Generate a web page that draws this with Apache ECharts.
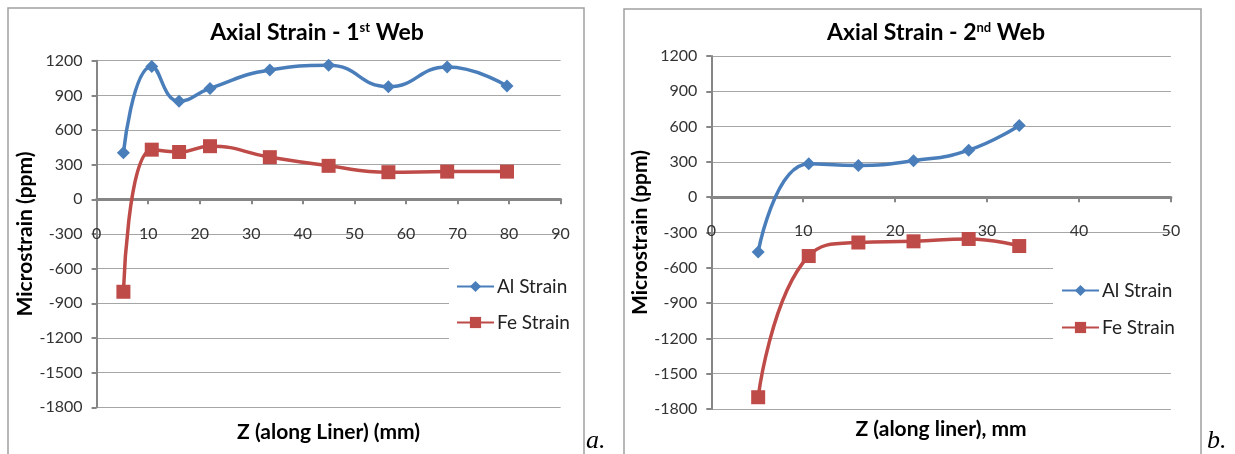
<!DOCTYPE html>
<html><head><meta charset="utf-8">
<script src="https://cdn.jsdelivr.net/npm/echarts@6/dist/echarts.min.js"></script>
<style>html,body{margin:0;padding:0;background:#fff}#c{width:1235px;height:454px}</style>
</head><body><div id="c"></div>
<script>
// ---- data ----
const zWeb1  = [5.2, 10.7, 16, 22, 33.6, 45, 56.6, 68, 79.6];
const alWeb1 = [403, 1150, 850, 960, 1120, 1160, 975, 1145, 980];
const feWeb1 = [-800, 430, 410, 460, 365, 290, 235, 240, 240];
const zWeb2  = [5.1, 10.6, 16, 22, 28, 33.5];
const alWeb2 = [-465, 285, 270, 310, 400, 610];
const feWeb2 = [-1700, -500, -385, -375, -355, -415];
const seriesNames = ['Al Strain', 'Fe Strain'];
const yRange = {min: -1800, max: 1200, interval: 300};
const xRange1 = {min: 0, max: 90, interval: 10};
const xRange2 = {min: 0, max: 50, interval: 10};

const BLUE = '#4A7EBB', RED = '#BE4B48';
const FONT = 'Lato';
const zip = (xs, ys) => xs.map((x, i) => [x, ys[i]]);

const grids = [
  {left: 96.6, top: 60.7, width: 464, height: 346.6},
  {left: 711.3, top: 56, width: 459.6, height: 353}
];
// the x axis crosses the y axis at value 0 (as in the original chart)
const zeroOffset = g => -g.height * (0 - yRange.min) / (yRange.max - yRange.min);

function xAxisCfg(idx, r, name, gap, margin) {
  return {
    type: 'value', gridIndex: idx, min: r.min, max: r.max, interval: r.interval,
    position: 'bottom', offset: zeroOffset(grids[idx]),
    name: name, nameLocation: 'middle', nameGap: gap,
    nameTextStyle: {fontFamily: FONT, fontWeight: 'bold', fontSize: 21, color: '#000'},
    axisLine: {show: true, onZero: false, lineStyle: {color: '#868686', width: 3}},
    axisTick: {show: true, length: 5, lineStyle: {color: '#868686', width: 2}},
    axisLabel: {margin: margin, fontFamily: FONT, fontSize: 16, color: '#333', formatter: v => String(v)},
    splitLine: {show: false}
  };
}
function yAxisCfg(idx, gap) {
  return {
    type: 'value', gridIndex: idx, min: yRange.min, max: yRange.max, interval: yRange.interval,
    name: 'Microstrain (ppm)', nameLocation: 'middle', nameGap: gap,
    nameTextStyle: {fontFamily: FONT, fontWeight: 'bold', fontSize: 21, color: '#000'},
    axisLine: {show: true, onZero: false, lineStyle: {color: '#868686', width: 2}},
    axisTick: {show: true, length: 5, lineStyle: {color: '#868686', width: 2}},
    axisLabel: {margin: 14, fontFamily: FONT, fontSize: 16, color: '#333', formatter: v => String(v)},
    splitLine: {show: true, lineStyle: {color: '#A6A6A6', width: 1}}
  };
}
function lineSeries(name, idx, data, color, symbol, size) {
  return {
    type: 'line', name: name, xAxisIndex: idx, yAxisIndex: idx, data: data,
    smooth: 0.5, symbol: symbol, symbolSize: size, showSymbol: true,
    lineStyle: {color: color, width: 3.5}, itemStyle: {color: color},
    emphasis: {disabled: true}, animation: false
  };
}
function legendCfg(names, left, top, padding, gap) {
  return {
    show: true, orient: 'vertical', left: left, top: top, padding: padding,
    backgroundColor: '#fff', itemGap: gap, itemWidth: 37, itemHeight: 14,
    data: names.map(n => ({name: n})), formatter: n => n.trim(),
    textStyle: {fontFamily: FONT, fontSize: 19, color: '#222', padding: [0, 0, 0, -2]},
    selectedMode: false
  };
}
const titleRich = {
  t: {fontFamily: FONT, fontWeight: 'bold', fontSize: 23, fill: '#000', color: '#000'},
  s: {fontFamily: FONT, fontWeight: 'bold', fontSize: 13, fill: '#000', color: '#000', verticalAlign: 'top', padding: [0, 0, 10, 0]}
};

const chart = echarts.init(document.getElementById('c'), null, {renderer: 'canvas'});
chart.setOption({
  backgroundColor: '#fff',
  animation: false,
  grid: grids.map(g => Object.assign({containLabel: false, outerBoundsMode: 'none'}, g)),
  xAxis: [
    xAxisCfg(0, xRange1, 'Z (along Liner) (mm)', 222, 27),
    xAxisCfg(1, xRange2, 'Z (along liner), mm', 222, 26)
  ],
  yAxis: [yAxisCfg(0, 60), yAxisCfg(1, 53)],
  legend: [
    legendCfg(['Al Strain', 'Fe Strain'], 449, 259, [18, 12, 16, 7], 17),
    legendCfg(['Al Strain ', 'Fe Strain '], 1053, 259, [22, 10, 14, 8], 18)
  ],
  series: [
    lineSeries('Al Strain', 0, zip(zWeb1, alWeb1), BLUE, 'diamond', 13),
    lineSeries('Fe Strain', 0, zip(zWeb1, feWeb1), RED, 'rect', 14),
    lineSeries('Al Strain ', 1, zip(zWeb2, alWeb2), BLUE, 'diamond', 13),
    lineSeries('Fe Strain ', 1, zip(zWeb2, feWeb2), RED, 'rect', 14)
  ],
  graphic: [
    {type: 'rect', shape: {x: 8, y: 8, width: 576, height: 460}, style: {fill: 'none', stroke: '#A0A0A0', lineWidth: 1.5}, silent: true},
    {type: 'rect', shape: {x: 624, y: 9, width: 577, height: 460}, style: {fill: 'none', stroke: '#A0A0A0', lineWidth: 1.5}, silent: true},
    {type: 'text', x: 317, y: 33, silent: true,
      style: {text: '{t|Axial Strain - 1}{s|st}{t| Web}', rich: titleRich, align: 'center', verticalAlign: 'middle'}},
    {type: 'text', x: 936, y: 33, silent: true,
      style: {text: '{t|Axial Strain - 2}{s|nd}{t| Web}', rich: titleRich, align: 'center', verticalAlign: 'middle'}},
    {type: 'text', x: 586, y: 441, silent: true,
      style: {text: 'a.', font: 'italic 26px "Liberation Serif"', fill: '#000', align: 'left', verticalAlign: 'middle'}},
    {type: 'text', x: 1207, y: 441, silent: true,
      style: {text: 'b.', font: 'italic 26px "Liberation Serif"', fill: '#000', align: 'left', verticalAlign: 'middle'}}
  ]
});
</script>
</body></html>
